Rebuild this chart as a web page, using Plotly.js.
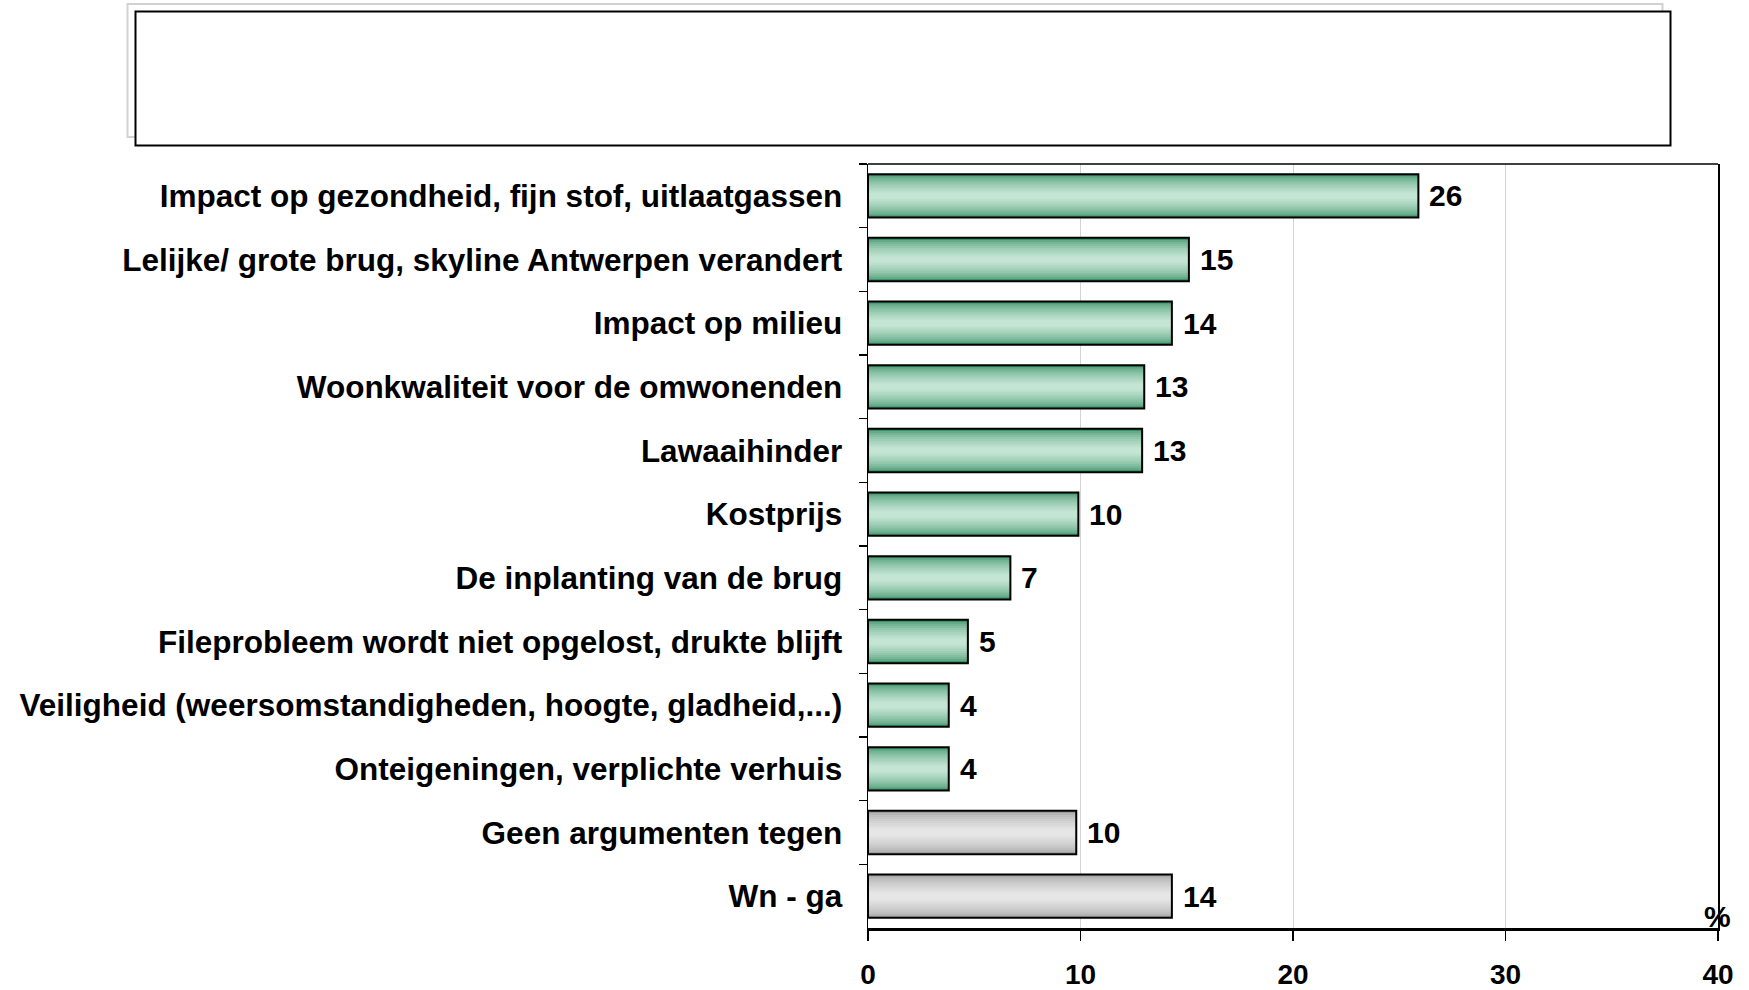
<!DOCTYPE html>
<html>
<head>
<meta charset="utf-8">
<script src="https://cdn.plot.ly/plotly-3.0.1.min.js"></script>
<style>html,body{margin:0;padding:0;background:#fff;}</style>
</head>
<body>
<div id="chart" style="width:1749px;height:990px;"></div>
<script>
// ---- data ----
const categories = [
  "Impact op gezondheid, fijn stof, uitlaatgassen",
  "Lelijke/ grote brug, skyline Antwerpen verandert",
  "Impact op milieu",
  "Woonkwaliteit voor de omwonenden",
  "Lawaaihinder",
  "Kostprijs",
  "De inplanting van de brug",
  "Fileprobleem wordt niet opgelost, drukte blijft",
  "Veiligheid (weersomstandigheden, hoogte, gladheid,...)",
  "Onteigeningen, verplichte verhuis",
  "Geen argumenten tegen",
  "Wn - ga"
];
const values = [25.9, 15.1, 14.3, 13.0, 12.9, 9.9, 6.7, 4.7, 3.8, 3.8, 9.8, 14.3];
const groups = ["arg","arg","arg","arg","arg","arg","arg","arg","arg","arg","other","other"];
const xTicks = [0, 10, 20, 30, 40];

// ---- layout geometry (pixels) ----
const W = 1749, H = 990;
const PL = 868, PR = 1718, PT = 164, PB = 928;
const pw = PR - PL, ph = PB - PT;
const px = v => (v - PL) / pw;
const py = v => (PB - v) / ph;

const FONT = "Liberation Sans, Arial, sans-serif";
const BARW = 0.68;
const N = 10;

const palettes = {
  arg:   {edge: [58,146,102],  center: [196,229,212]},
  other: {edge: [160,160,160], center: [230,230,230]}
};
function mix(a, b, t) {
  return "rgb(" + a.map((v, i) => Math.round(v + (b[i] - v) * t)).join(",") + ")";
}

const traces = [];
for (let k = 0; k < N; k++) {
  const t = Math.pow(k / (N - 1), 0.55);
  const w = BARW * (1 - 0.85 * k / (N - 1));
  traces.push({
    type: "bar", orientation: "h",
    x: values, y: categories,
    width: categories.map(() => w),
    marker: {
      color: groups.map(g => mix(palettes[g].edge, palettes[g].center, t)),
      line: {width: 0}
    },
    hoverinfo: "skip", showlegend: false
  });
}
// outline
traces.push({
  type: "bar", orientation: "h",
  x: values, y: categories,
  width: categories.map(() => BARW),
  marker: {color: "rgba(0,0,0,0)", line: {color: "#000", width: 2}},
  hoverinfo: "x+y", showlegend: false
});

const annotations = values.map((v, i) => ({
  x: v, y: categories[i], xref: "x", yref: "y",
  text: String(Math.round(v)),
  showarrow: false, xanchor: "left", yanchor: "middle", xshift: 9,
  font: {family: FONT, size: 30, color: "#000", weight: 700}
}));
annotations.push({
  x: 40, y: 0, xref: "x", yref: "paper",
  text: "%", showarrow: false, xanchor: "center", yanchor: "bottom", yshift: -7, xshift: -1,
  font: {family: FONT, size: 30, color: "#000", weight: 700}
});

const shapes = [
  // shadow box
  {type: "rect", xref: "paper", yref: "paper",
   x0: px(127.5), x1: px(1662.5), y0: py(137), y1: py(4),
   line: {color: "#d2d2d2", width: 2}, fillcolor: "rgba(0,0,0,0)"},
  // title box
  {type: "rect", xref: "paper", yref: "paper",
   x0: px(135.5), x1: px(1670.5), y0: py(145.5), y1: py(11.5),
   line: {color: "#000", width: 2}, fillcolor: "#fff"},
  // top frame line
  {type: "line", xref: "paper", yref: "paper",
   x0: 0, x1: 1, y0: 1, y1: 1, line: {color: "#000", width: 1.5}}
];

const layout = {
  width: W, height: H,
  margin: {l: PL, r: W - PR, t: PT, b: H - PB, pad: 0},
  paper_bgcolor: "#fff", plot_bgcolor: "#fff",
  barmode: "overlay",
  showlegend: false,
  xaxis: {
    range: [0, 40], tickvals: xTicks, ticktext: xTicks.map(String),
    showgrid: true, gridcolor: "#d4d4d4", gridwidth: 1,
    zeroline: false,
    showline: true, linecolor: "#000", linewidth: 2.5,
    ticks: "outside", ticklen: 10, tickcolor: "#000", tickwidth: 1.5,
    ticklabelstandoff: 10,
    tickfont: {family: FONT, size: 28, color: "#000", weight: 700},
    fixedrange: true
  },
  yaxis: {
    type: "category", autorange: "reversed",
    showgrid: false, zeroline: false,
    showline: true, linecolor: "#000", linewidth: 1.5, mirror: true,
    ticks: "outside", tickson: "boundaries", ticklen: 8, tickcolor: "#000", tickwidth: 1.5,
    ticklabelstandoff: 18,
    tickfont: {family: FONT, size: 31.5, color: "#000", weight: 700},
    fixedrange: true
  },
  annotations: annotations,
  shapes: shapes
};

Plotly.newPlot("chart", traces, layout, {displayModeBar: false, staticPlot: true});
</script>
</body>
</html>
